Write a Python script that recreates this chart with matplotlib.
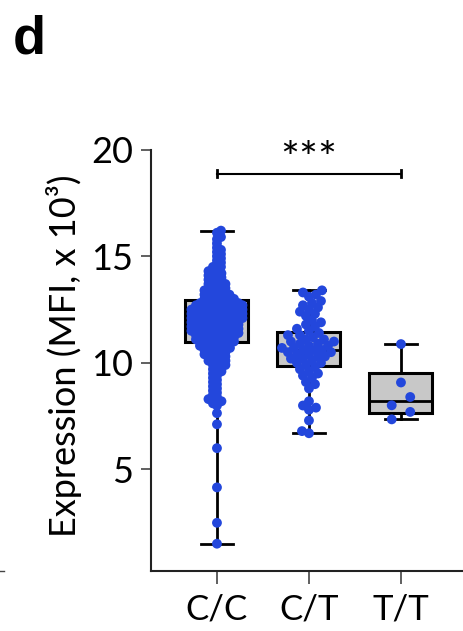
import numpy as np
import matplotlib.pyplot as plt
from matplotlib.lines import Line2D

plt.rcParams['font.family'] = ['Lato', 'DejaVu Sans']

groups = ['C/C', 'C/T', 'T/T']

cc_levels = [16.2, 16.1, 15.9, 15.8, 15.6, 15.4, 15.3,
             15.2, 15.1, 15.0, 14.9, 14.8, 14.7,
             14.6, 14.5, 14.4, 14.3, 14.2, 14.1, 14.0, 13.9,
             13.8, 13.7, 13.6, 13.5, 13.4, 13.3, 13.2, 13.1, 13.0, 12.9,
             12.8, 12.7, 12.6, 12.5, 12.4, 12.3, 12.2, 12.1, 12.0,
             11.9, 11.8, 11.7, 11.6, 11.5, 11.4, 11.3, 11.2, 11.1, 11.0,
             10.9, 10.8, 10.7, 10.6, 10.5,
             10.4, 10.3, 10.2, 10.1, 10.0,
             9.9, 9.8, 9.7, 9.6, 9.5, 9.4,
             9.3, 9.2, 9.1, 9.0, 8.9, 8.8, 8.7, 8.6, 8.5, 8.4, 8.3, 8.2, 8.1, 8.0]
cc_counts = [1, 1, 1, 1, 1, 1, 1,
             1, 1, 1, 1, 1, 1,
             1, 2, 1, 2, 2, 2, 2, 2,
             2, 3, 2, 3, 3, 3, 4, 3, 4, 4,
             6, 6, 6, 7, 6, 7, 6, 7, 6,
             6, 6, 6, 6, 6, 6, 5, 5, 5, 5,
             4, 4, 4, 3, 3,
             3, 3, 2, 3, 2,
             2, 2, 1, 2, 1, 1,
             1, 1, 1, 1, 1, 1, 1, 1, 1, 1, 2, 2, 1, 1]
cc_singles = [7.64, 7.12, 6.0, 4.16, 2.5, 1.52]

ct_values = [13.4, 13.3, 13.2, 13.1, 12.9, 12.8, 12.7, 12.6, 12.5, 12.4,
             12.3, 12.2, 12.0, 11.9, 11.8, 11.7, 11.6, 11.5, 11.4, 11.3,
             11.3, 11.2, 11.1, 11.1, 11.0, 11.0, 10.9, 10.9, 10.8, 10.8,
             10.7, 10.7, 10.6, 10.6, 10.6, 10.5, 10.5, 10.4, 10.4, 10.3,
             10.3, 10.2, 10.2, 10.1, 10.0, 10.0, 9.9, 9.8, 9.7, 9.6,
             9.5, 9.4, 9.3, 9.1, 9.0, 8.8, 8.2, 8.0, 7.9, 7.8,
             7.3, 6.8, 6.7]
tt_values = [10.88, 9.08, 8.40, 8.01, 7.70, 7.35]

# box summaries as drawn (Prism style, whiskers min to max)
box_q1 = [10.97, 9.84, 7.63]
box_med = [12.1, 10.6, 8.2]
box_q3 = [12.95, 11.44, 9.52]
whisk_lo = [1.52, 6.7, 7.35]
whisk_hi = [16.2, 13.4, 10.88]

sig_y = 18.87
sig_text = '***'

cc_values = list(np.repeat(cc_levels, cc_counts)) + cc_singles
data = [cc_values, ct_values, tt_values]

W, H = 464, 631
fig = plt.figure(figsize=(W / 100, H / 100), dpi=100)
ax_l, ax_b, ax_w, ax_h = 151, 60, 313, 421.4
ax = fig.add_axes([ax_l / W, ax_b / H, ax_w / W, ax_h / H])
xlim = (0.283, 0.283 + ax_w / 92)
ylim = (0.24, 20)
ax.set_xlim(*xlim)
ax.set_ylim(*ylim)


def swarm(ypix, d):
    # greedy beeswarm in pixel space, points allowed to overlap a bit
    order = np.argsort(ypix, kind='stable')
    px, py = [], []
    xs = np.zeros(len(ypix))
    for k, i in enumerate(order):
        y = ypix[i]
        ax_ = np.array(px)
        ay_ = np.array(py)
        near = np.abs(ay_ - y) < d if len(ay_) else np.zeros(0, bool)
        nx, ny = ax_[near], ay_[near]
        sgn = 1 if k % 2 == 0 else -1
        o = 0.0
        found = None
        while found is None:
            for c in (sgn * o, -sgn * o):
                if np.all((nx - c) ** 2 + (ny - y) ** 2 >= d * d):
                    found = c
                    break
            o += 0.5
        xs[i] = found
        px.append(found)
        py.append(y)
    return xs


def rows(ypix, binh, sp):
    # Prism-like: points close in y share a row and are spread sideways
    order = np.argsort(-ypix, kind='stable')
    xs = np.zeros(len(ypix))
    row = []
    for i in list(order) + [None]:
        if i is not None and row and ypix[row[0]] - ypix[i] < binh:
            row.append(i)
            continue
        n = len(row)
        for j, r in enumerate(row):
            xs[r] = ((n - 1) / 2 - j) * sp
        row = [i]
    return xs


px_per_x = ax_w / (xlim[1] - xlim[0])
px_per_y = ax_h / (ylim[1] - ylim[0])

stats = []
for i in range(3):
    stats.append(dict(med=box_med[i], q1=box_q1[i], q3=box_q3[i],
                      whislo=whisk_lo[i], whishi=whisk_hi[i], fliers=[]))
ax.bxp(stats, positions=[1, 2, 3], widths=0.685, capwidths=0.34,
       patch_artist=True, showfliers=False,
       boxprops=dict(facecolor='#C8C8C8', edgecolor='black', linewidth=2.2),
       whiskerprops=dict(color='black', linewidth=2),
       capprops=dict(color='black', linewidth=2),
       medianprops=dict(color='black', linewidth=2),
       zorder=1)

for i, vals in enumerate(data):
    vals = np.asarray(vals, float)
    ypx = vals * px_per_y
    if i == 0:
        off = swarm(ypx, 4.2)
    elif i == 1:
        off = swarm(ypx, 7.0)
    else:
        off = rows(ypx, 10, 18.5)
    ax.scatter(i + 1 + off / px_per_x, vals, s=50, color='#2347DC',
               edgecolors='none', zorder=3)

# significance bar
ax.plot([1, 3], [sig_y, sig_y], color='black', lw=1.5)
ax.plot([1, 1], [sig_y - 0.15, sig_y + 0.15], color='black', lw=2)
ax.plot([3, 3], [sig_y - 0.15, sig_y + 0.15], color='black', lw=2)
ax.text(2, 19.5, sig_text, ha='center', va='center', fontsize=32)

for s in ['top', 'right']:
    ax.spines[s].set_visible(False)
for s in ['left', 'bottom']:
    ax.spines[s].set_linewidth(1.5)
    ax.spines[s].set_color('#222222')

ax.set_yticks([5, 10, 15, 20])
ax.set_xticks([1, 2, 3])
ax.set_xticklabels(groups)
ax.tick_params(axis='y', length=7, width=1.2, color='#444444', labelsize=26, pad=6)
ax.tick_params(axis='x', length=9, width=1.2, color='#444444', labelsize=25, pad=7)
ax.set_ylabel('Expression (MFI, x 10³)', fontsize=26)
ax.yaxis.set_label_coords(-0.22, 0.51)

fig.text(13 / W, 1 - 14 / H, 'd', fontsize=39, fontweight='bold',
         family='Liberation Sans', va='top', ha='left')
fig.add_artist(Line2D([0, 4 / W], [1 - 571 / H, 1 - 571 / H], color='#444444', lw=1))

fig.savefig('out.png', dpi=100)
